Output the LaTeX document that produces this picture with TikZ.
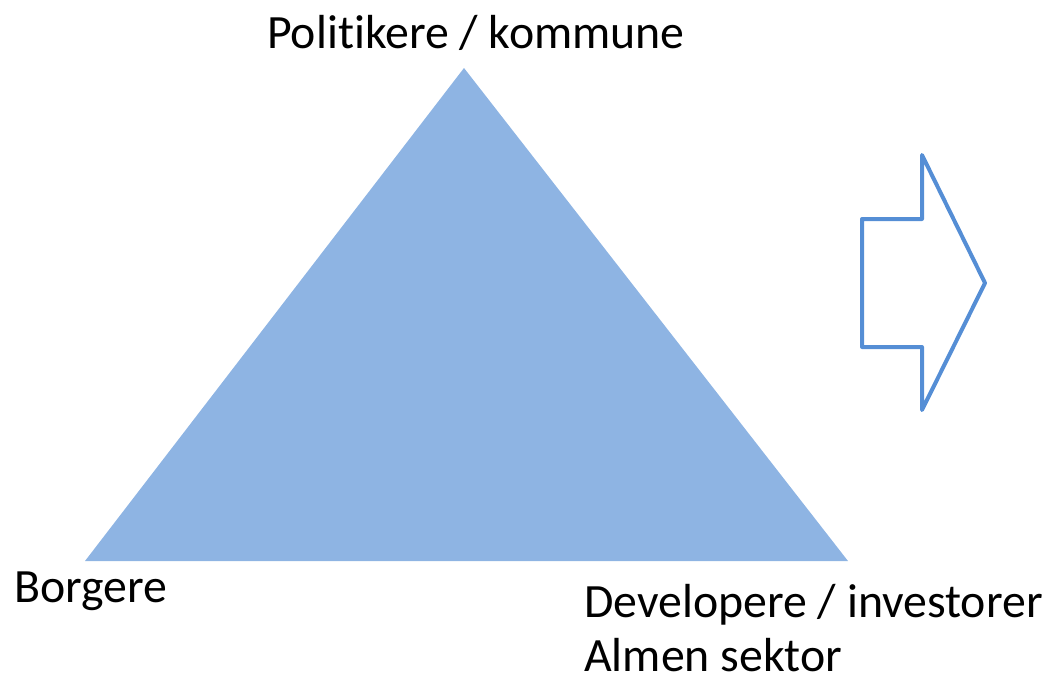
\documentclass[tikz,border=0pt]{standalone}
\usepackage{fontspec}
\setmainfont{Carlito}[Ligatures={NoCommon}]
\definecolor{trifill}{HTML}{8EB4E3}
\definecolor{arrowline}{HTML}{558ED5}
\tikzset{
  lbl/.style={anchor=base west, inner sep=0pt, font=\fontsize{47.8}{56}\selectfont, text=black},
  tri/.style={fill=trifill, draw=none},
  bigarrow/.style={draw=arrowline, line width=4pt, line join=round, fill=none}
}
\begin{document}
\begin{tikzpicture}[x=1pt,y=-1pt]
\useasboundingbox (0,0) rectangle (1050,678);
\coordinate (apex) at (464,68);
\coordinate (bl) at (85,561);
\coordinate (br) at (848,561);
\fill[tri] (apex) -- (br) -- (bl) -- cycle;
\draw[bigarrow] (862,219) -- (922,219) -- (922,155) -- (985,283) -- (922,410) -- (922,347) -- (862,347) -- cycle;
\node[lbl] (top) at (267,48) {Politikere / kommune};
\node[lbl] (left) at (14,602) {Borgere};
\node[lbl] (right) at (584,617) {Developere / investorer};
\node[lbl] (right2) at (584,671) {Almen sektor};
\end{tikzpicture}
\end{document}
